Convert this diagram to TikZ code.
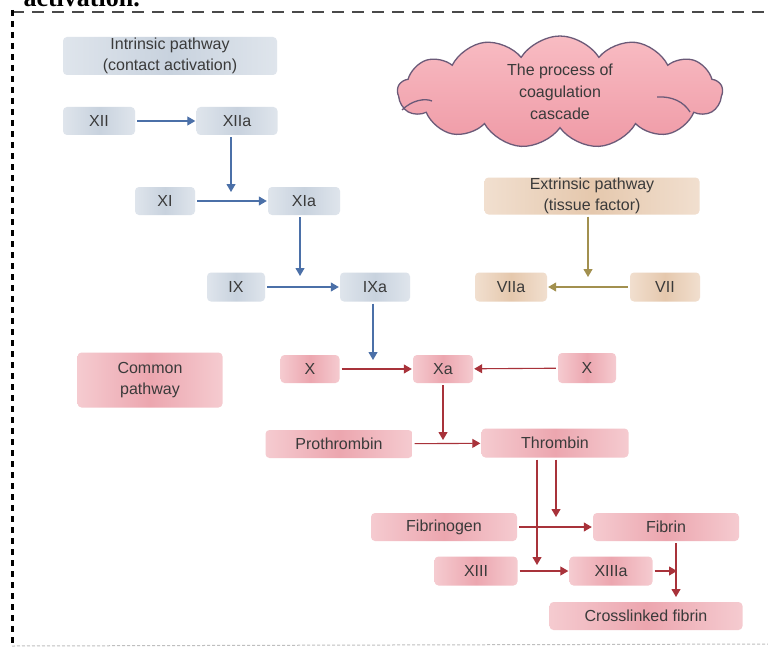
\documentclass[tikz,border=0pt]{standalone}
\usepackage{fontspec}
\setmainfont{Liberation Sans}
\newfontfamily\capfont{Liberation Serif}
\usetikzlibrary{arrows.meta,shapes.symbols}
\definecolor{txt}{HTML}{3A3A3A}
\definecolor{blA}{HTML}{DFE5EC}
\definecolor{blB}{HTML}{C8D2DE}
\definecolor{tnA}{HTML}{F1DFCF}
\definecolor{tnB}{HTML}{E5C8AD}
\definecolor{pkA}{HTML}{F5CBD0}
\definecolor{pkB}{HTML}{ECA6AF}
\definecolor{blarr}{HTML}{4B70A8}
\definecolor{olarr}{HTML}{A2904F}
\definecolor{rdarr}{HTML}{A8323A}
\definecolor{cloudline}{HTML}{6B5A78}
\definecolor{cloudA}{HTML}{F8BCC3}
\definecolor{cloudB}{HTML}{EF9AA6}
\definecolor{framegray}{HTML}{4A4A4A}
\tikzset{
  box/.style={rounded corners=4pt, inner sep=0pt, align=center, text=txt,
    font=\fontsize{16}{20.5}\selectfont},
  bluebox/.style={box, left color=blA, right color=blA, middle color=blB},
  tanbox/.style={box, left color=tnA, right color=tnA, middle color=tnB},
  pinkbox/.style={box, left color=pkA, right color=pkA, middle color=pkB},
  arr/.style={-{Triangle[length=8pt,width=9pt]}, line width=1.1pt,
    shorten <=2pt, shorten >=1pt},
  barr/.style={arr, draw=blarr},
  oarr/.style={arr, draw=olarr},
  rarr/.style={arr, draw=rdarr},
}
\begin{document}
\begin{tikzpicture}[x=1pt,y=-1pt]
\useasboundingbox (0,0) rectangle (768,650);
\fill[white] (0,0) rectangle (768,650);
% clipped caption remnant at the top
\begin{scope}
\clip (0,0) rectangle (220,9);
\node[anchor=base east, inner sep=0pt, font=\capfont\bfseries\fontsize{26}{26}\selectfont] (cap) at (140,7) {activation.};
\end{scope}
% frame
\coordinate (ftl) at (12,12);
\coordinate (ftr) at (768,12);
\coordinate (fbl) at (12,645);
\coordinate (fbr) at (768,644);
\draw[framegray, line width=1.8pt, dash pattern=on 12pt off 8pt] (ftl) -- (ftr);
\draw[black, line width=3pt, dash pattern=on 6pt off 5pt] ([yshift=2pt]ftl) -- (fbl);
\draw[gray!50, line width=1pt, dash pattern=on 3pt off 2pt] ([yshift=-1pt]fbl) -- (fbr);

% cloud
\node[cloud, cloud puffs=13, cloud puff arc=115, aspect=2.9, minimum width=325pt, minimum height=112pt,
  draw=cloudline, line width=1.3pt, top color=cloudA, bottom color=cloudB, inner sep=0pt,
  align=center, text=txt, font=\fontsize{16}{22}\selectfont] (cloud) at (560,92)
  {The process of\\coagulation\\cascade};
\draw[cloudline, line width=1.3pt] (402,110) .. controls (412,100) and (425,98) .. (432,101);
\draw[cloudline, line width=1.3pt] (657,97) .. controls (672,96) and (684,102) .. (690,112);

% intrinsic
\node[bluebox, minimum width=214pt, minimum height=38pt] (intr) at (170,56) {Intrinsic pathway\\(contact activation)};
\node[bluebox, minimum width=72pt, minimum height=28pt] (xii) at (99,121) {XII};
\node[bluebox, minimum width=81pt, minimum height=28pt] (xiia) at (237,121) {XIIa};
\node[bluebox, minimum width=60pt, minimum height=28pt] (xi) at (165,201) {XI};
\node[bluebox, minimum width=72pt, minimum height=28pt] (xia) at (304,201) {XIa};
\node[bluebox, minimum width=58pt, minimum height=29pt] (ix) at (236,287) {IX};
\node[bluebox, minimum width=70pt, minimum height=29pt] (ixa) at (375,287) {IXa};
% extrinsic
\node[tanbox, minimum width=215pt, minimum height=37pt] (extr) at (592,196) {Extrinsic pathway\\(tissue factor)};
\node[tanbox, minimum width=72pt, minimum height=29pt] (viia) at (511,287) {VIIa};
\node[tanbox, minimum width=70pt, minimum height=29pt] (vii) at (665,287) {VII};
% common
\node[pinkbox, minimum width=145pt, minimum height=55pt] (common) at (150,380) {Common\\pathway};
\node[pinkbox, minimum width=59pt, minimum height=28pt] (xl) at (310,369) {X};
\node[pinkbox, minimum width=60pt, minimum height=28pt] (xa) at (443,369) {Xa};
\node[pinkbox, minimum width=58pt, minimum height=30pt] (xr) at (587,368) {X};
\node[pinkbox, minimum width=147pt, minimum height=28pt] (pro) at (339,444) {Prothrombin};
\node[pinkbox, minimum width=147pt, minimum height=29pt] (thr) at (555,443) {Thrombin};
\node[pinkbox, minimum width=146pt, minimum height=28pt] (fbg) at (444,527) {Fibrinogen};
\node[pinkbox, minimum width=146pt, minimum height=28pt] (fbn) at (666,527) {Fibrin};
\node[pinkbox, minimum width=83pt, minimum height=29pt] (xiii) at (476,571) {XIII};
\node[pinkbox, minimum width=83pt, minimum height=29pt] (xiiia) at (611,571) {XIIIa};
\node[pinkbox, minimum width=193pt, minimum height=28pt] (cross) at (646,616) {Crosslinked fibrin};

% junction points
\coordinate (j1) at (231,193);
\coordinate (j2) at (300,277);
\coordinate (j3) at (373,361);
\coordinate (j4) at (588,278);
\coordinate (j5) at (443,441);
\coordinate (j6) at (556,518);
\coordinate (j7) at (537,566);
\coordinate (j8) at (676,598);
\coordinate (j9) at (677,571);

% intrinsic arrows
\draw[barr] (xii) -- (xiia);
\draw[barr] (xi) -- (xia);
\draw[barr] (ix) -- (ixa);
\draw[barr] (xiia.south -| j1) -- (j1);
\draw[barr] (xia.south -| j2) -- (j2);
\draw[barr] (ixa.south -| j3) -- (j3);
% extrinsic arrows
\draw[oarr] (extr.south -| j4) -- (j4);
\draw[oarr] (vii) -- (viia);
% common arrows
\draw[rarr] (xl) -- (xa);
\draw[rarr] (xr) -- (xa);
\draw[rarr] (xa.south -| j5) -- (j5);
\draw[rarr] (pro) -- (thr);
\draw[rarr] (thr.south -| j6) -- (j6);
\draw[rarr] (thr.south -| j7) -- (j7);
\draw[rarr] (fbg) -- (fbn);
\draw[rarr] (xiii) -- (xiiia);
\draw[rarr] (fbn.south -| j8) -- (j8);
\draw[rarr, shorten >=0pt] (xiiia) -- (j9);
\end{tikzpicture}
\end{document}
